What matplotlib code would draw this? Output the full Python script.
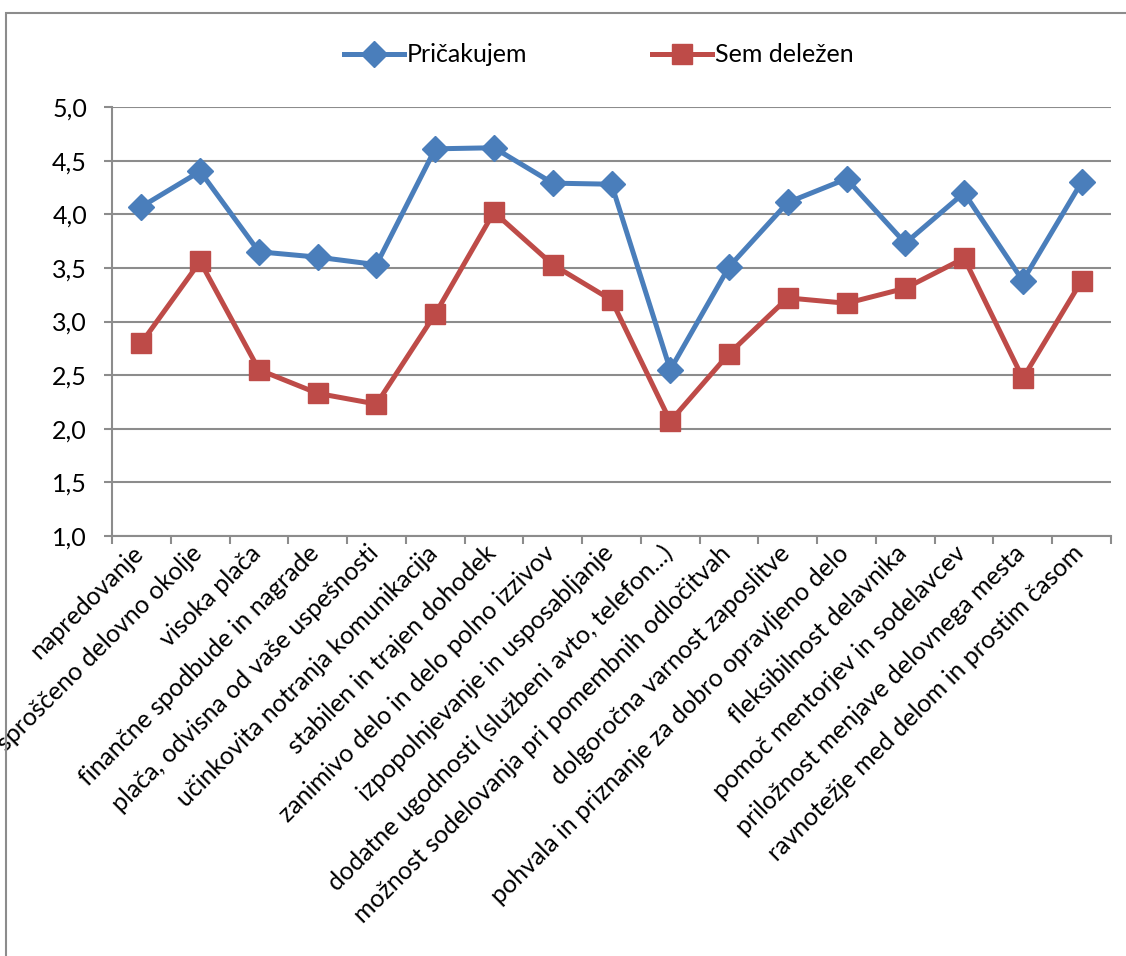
import matplotlib.pyplot as plt
from matplotlib.patches import Rectangle
from matplotlib.ticker import FixedLocator, NullFormatter
from matplotlib.transforms import ScaledTranslation

categories = ['napredovanje', 'sproščeno delovno okolje', 'visoka plača',
              'finančne spodbude in nagrade', 'plača, odvisna od vaše uspešnosti',
              'učinkovita notranja komunikacija', 'stabilen in trajen dohodek',
              'zanimivo delo in delo polno izzivov', 'izpopolnjevanje in usposabljanje',
              'dodatne ugodnosti (službeni avto, telefon...)',
              'možnost sodelovanja pri pomembnih odločitvah',
              'dolgoročna varnost zaposlitve', 'pohvala in priznanje za dobro opravljeno delo',
              'fleksibilnost delavnika', 'pomoč mentorjev in sodelavcev',
              'priložnost menjave delovnega mesta', 'ravnotežje med delom in prostim časom']
pricakujem = [4.07, 4.40, 3.65, 3.60, 3.53, 4.61, 4.62, 4.29, 4.28, 2.55,
              3.51, 4.11, 4.33, 3.73, 4.20, 3.38, 4.30]
delezen = [2.80, 3.56, 2.55, 2.33, 2.23, 3.07, 4.02, 3.53, 3.20, 2.07,
           2.70, 3.22, 3.17, 3.31, 3.59, 2.47, 3.38]
yticks = [1.0, 1.5, 2.0, 2.5, 3.0, 3.5, 4.0, 4.5, 5.0]

plt.rcParams['font.family'] = ['Lato', 'DejaVu Sans']

fig = plt.figure(figsize=(11.26, 9.56), dpi=100)
# outer chart frame
fig.patches.append(Rectangle((6 / 1126, -0.1), 1.2, 1 - 13 / 956 + 0.1,
                             transform=fig.transFigure, fill=False,
                             edgecolor='#8c8c8c', linewidth=1.5))

ax = fig.add_axes([112 / 1126, 1 - 536 / 956, 999 / 1126, 429 / 956])
x = list(range(len(categories)))

ax.plot(x, pricakujem, color='#4A7EBB', linewidth=3.6, marker='D',
        markersize=13, label='Pričakujem')
ax.plot(x, delezen, color='#BE4B48', linewidth=3.6, marker='s',
        markersize=14, label='Sem deležen')

ax.set_xlim(-0.5, len(categories) - 0.5)
ax.set_ylim(1.0, 5.0)
ax.set_yticks(yticks)
ax.set_yticklabels([f'{v:.1f}'.replace('.', ',') for v in yticks], fontsize=18)
ax.yaxis.grid(True, color='#8c8c8c', linewidth=1.5)
ax.set_axisbelow(True)

ax.xaxis.set_major_locator(FixedLocator([i - 0.5 for i in range(len(categories) + 1)]))
ax.xaxis.set_major_formatter(NullFormatter())
ax.set_xticks(x, minor=True)
ax.set_xticklabels(categories, minor=True, rotation=45, ha='right',
                   rotation_mode='anchor', fontsize=18)
ax.tick_params(axis='x', which='minor', length=0, pad=1)
ax.tick_params(axis='x', which='major', length=6, color='#8c8c8c', width=1.5)
ax.tick_params(axis='y', length=6, color='#8c8c8c', width=1.5, pad=12)

# nudge the slanted category labels a little left and down
shift = ScaledTranslation(-10 / 100, -4 / 100, fig.dpi_scale_trans)
for lbl in ax.get_xticklabels(minor=True):
    lbl.set_transform(lbl.get_transform() + shift)

for s in ['top', 'right']:
    ax.spines[s].set_visible(False)
for s in ['left', 'bottom']:
    ax.spines[s].set_color('#8c8c8c')
    ax.spines[s].set_linewidth(1.5)

fig.legend(loc='center', bbox_to_anchor=(0.532, 1 - 55 / 956), ncol=2,
           frameon=False, fontsize=18, handlelength=2.4, handletextpad=0.1,
           columnspacing=5.0)

fig.savefig('out.png', dpi=100)
